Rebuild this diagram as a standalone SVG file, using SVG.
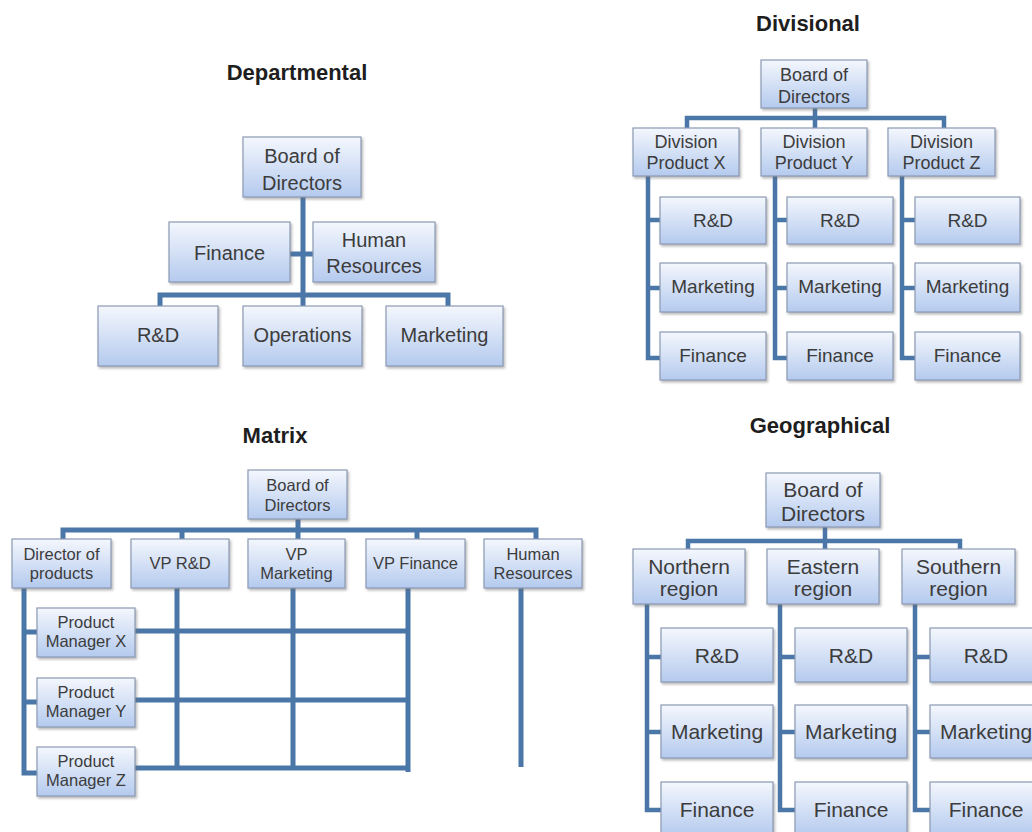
<svg xmlns="http://www.w3.org/2000/svg" width="1032" height="832" viewBox="0 0 1032 832">
<defs>
<linearGradient id="bg" x1="0" y1="0" x2="0" y2="1">
<stop offset="0" stop-color="#f4f7fd"/>
<stop offset="1" stop-color="#b4caee"/>
</linearGradient>
<filter id="sh" x="-10%" y="-10%" width="125%" height="130%">
<feDropShadow dx="1.5" dy="2" stdDeviation="1.2" flood-color="#6b6b6b" flood-opacity="0.45"/>
</filter>
</defs>
<style>
.box{fill:url(#bg);stroke:#8a9ab3;stroke-width:1.2;filter:url(#sh)}
.t{font-family:"Liberation Sans",Arial,sans-serif;fill:#3c3c3c;text-anchor:middle}
.title{font-family:"Liberation Sans",Arial,sans-serif;font-weight:bold;fill:#1e1e1e;text-anchor:middle;font-size:22px}
.d .t{font-size:20px}
.v .t{font-size:19px}
.v .t.s{font-size:18px}
.m .t{font-size:16.5px}
.g .t{font-size:21px}
.ln{fill:none;stroke:#4a76a8;stroke-linejoin:miter;stroke-linecap:butt}
.lw5{stroke-width:5}
.lw4{stroke-width:4.5}
</style>
<rect width="1032" height="832" fill="#ffffff"/>

<!-- ===== Departmental ===== -->
<text class="title" x="297" y="80">Departmental</text>
<g id="dep-connectors">
<path class="ln lw5" d="M303 197 V295 M160 306 V295 H448 V306 M303 295 V306 M290 254 H313"/>
</g>
<g class="d">
<g id="dep-board"><rect class="box" x="243" y="137" width="118" height="60"/><text class="t" x="302" y="163">Board of</text><text class="t" x="302" y="190">Directors</text></g>
<g id="dep-finance"><rect class="box" x="169" y="222" width="121" height="60"/><text class="t" x="229.5" y="260">Finance</text></g>
<g id="dep-hr"><rect class="box" x="313" y="222" width="122" height="60"/><text class="t" x="374" y="247">Human</text><text class="t" x="374" y="273">Resources</text></g>
<g id="dep-rd"><rect class="box" x="98" y="306" width="120" height="60"/><text class="t" x="158" y="342">R&amp;D</text></g>
<g id="dep-ops"><rect class="box" x="243" y="306" width="119" height="60"/><text class="t" x="302.5" y="342">Operations</text></g>
<g id="dep-mkt"><rect class="box" x="386" y="306" width="117" height="60"/><text class="t" x="444.5" y="342">Marketing</text></g>
</g>

<!-- ===== Divisional ===== -->
<text class="title" x="808" y="31">Divisional</text>
<g id="div-connectors">
<path class="ln lw4" d="M815 108 V118 M687 128 V118 H944 V128 M815 118 V128"/>
<path class="ln lw4" d="M648 176 V358 H660 M648 220 H660 M648 288 H660"/>
<path class="ln lw4" d="M775 176 V358 H787 M775 220 H787 M775 288 H787"/>
<path class="ln lw4" d="M902 176 V358 H915 M902 220 H915 M902 288 H915"/>
</g>
<g class="v">
<g id="div-board"><rect class="box" x="761" y="60" width="106" height="48"/><text class="t s" x="814" y="81">Board of</text><text class="t s" x="814" y="103">Directors</text></g>
<g id="div-x"><rect class="box" x="633" y="128" width="106" height="48"/><text class="t s" x="686" y="148">Division</text><text class="t s" x="686" y="169">Product X</text></g>
<g id="div-y"><rect class="box" x="761" y="128" width="106" height="48"/><text class="t s" x="814" y="148">Division</text><text class="t s" x="814" y="169">Product Y</text></g>
<g id="div-z"><rect class="box" x="888" y="128" width="107" height="48"/><text class="t s" x="941.5" y="148">Division</text><text class="t s" x="941.5" y="169">Product Z</text></g>
<g id="div-x-rd"><rect class="box" x="660" y="197" width="106" height="47"/><text class="t" x="713" y="227">R&amp;D</text></g>
<g id="div-x-mkt"><rect class="box" x="660" y="263" width="106" height="49"/><text class="t" x="713" y="293">Marketing</text></g>
<g id="div-x-fin"><rect class="box" x="660" y="332" width="106" height="48"/><text class="t" x="713" y="362">Finance</text></g>
<g id="div-y-rd"><rect class="box" x="787" y="197" width="106" height="47"/><text class="t" x="840" y="227">R&amp;D</text></g>
<g id="div-y-mkt"><rect class="box" x="787" y="263" width="106" height="49"/><text class="t" x="840" y="293">Marketing</text></g>
<g id="div-y-fin"><rect class="box" x="787" y="332" width="106" height="48"/><text class="t" x="840" y="362">Finance</text></g>
<g id="div-z-rd"><rect class="box" x="915" y="197" width="105" height="47"/><text class="t" x="967.5" y="227">R&amp;D</text></g>
<g id="div-z-mkt"><rect class="box" x="915" y="263" width="105" height="49"/><text class="t" x="967.5" y="293">Marketing</text></g>
<g id="div-z-fin"><rect class="box" x="915" y="332" width="105" height="48"/><text class="t" x="967.5" y="362">Finance</text></g>
</g>

<!-- ===== Matrix ===== -->
<text class="title" x="275" y="443">Matrix</text>
<g id="mat-connectors">
<path class="ln lw5" d="M298 519 V530 M63 539 V530 H536 V539 M182 530 V539 M298 530 V539 M417 530 V539"/>
<path class="ln lw5" d="M24 588 V773 H37 M24 632 H37 M24 702 H37"/>
<path class="ln lw5" d="M177 588 V768 M293 588 V768 M408 588 V772 M521 588 V767"/>
<path class="ln lw5" d="M135 631 H408 M135 700 H408 M135 768 H408"/>
</g>
<g class="m">
<g id="mat-board"><rect class="box" x="248" y="470" width="99" height="49"/><text class="t" x="297.5" y="491">Board of</text><text class="t" x="297.5" y="511">Directors</text></g>
<g id="mat-dir"><rect class="box" x="12" y="539" width="99" height="49"/><text class="t" x="61.5" y="560">Director of</text><text class="t" x="61.5" y="579">products</text></g>
<g id="mat-vprd"><rect class="box" x="131" y="539" width="98" height="49"/><text class="t" x="180" y="569">VP R&amp;D</text></g>
<g id="mat-vpm"><rect class="box" x="248" y="539" width="97" height="49"/><text class="t" x="296.5" y="560">VP</text><text class="t" x="296.5" y="579">Marketing</text></g>
<g id="mat-vpf"><rect class="box" x="366" y="539" width="99" height="49"/><text class="t" x="415.5" y="569">VP Finance</text></g>
<g id="mat-hr"><rect class="box" x="484" y="539" width="98" height="49"/><text class="t" x="533" y="560">Human</text><text class="t" x="533" y="579">Resources</text></g>
<g id="mat-pmx"><rect class="box" x="37" y="608" width="98" height="49"/><text class="t" x="86" y="628">Product</text><text class="t" x="86" y="647">Manager X</text></g>
<g id="mat-pmy"><rect class="box" x="37" y="678" width="98" height="49"/><text class="t" x="86" y="698">Product</text><text class="t" x="86" y="717">Manager Y</text></g>
<g id="mat-pmz"><rect class="box" x="37" y="747" width="98" height="49"/><text class="t" x="86" y="767">Product</text><text class="t" x="86" y="786">Manager Z</text></g>
</g>

<!-- ===== Geographical ===== -->
<text class="title" x="820" y="433">Geographical</text>
<g id="geo-connectors">
<path class="ln lw4" d="M825 527 V541 M688 549 V541 H960 V549 M825 541 V549"/>
<path class="ln lw4" d="M647 604 V810 H661 M647 657 H661 M647 732 H661"/>
<path class="ln lw4" d="M780 604 V810 H795 M780 657 H795 M780 732 H795"/>
<path class="ln lw4" d="M915 604 V810 H930 M915 657 H930 M915 732 H930"/>
</g>
<g class="g">
<g id="geo-board"><rect class="box" x="766" y="473" width="114" height="54"/><text class="t" x="823" y="497">Board of</text><text class="t" x="823" y="521">Directors</text></g>
<g id="geo-n"><rect class="box" x="633" y="549" width="112" height="55"/><text class="t" x="689" y="574">Northern</text><text class="t" x="689" y="596">region</text></g>
<g id="geo-e"><rect class="box" x="767" y="549" width="112" height="55"/><text class="t" x="823" y="574">Eastern</text><text class="t" x="823" y="596">region</text></g>
<g id="geo-s"><rect class="box" x="902" y="549" width="113" height="55"/><text class="t" x="958.5" y="574">Southern</text><text class="t" x="958.5" y="596">region</text></g>
<g id="geo-n-rd"><rect class="box" x="661" y="628" width="112" height="54"/><text class="t" x="717" y="663">R&amp;D</text></g>
<g id="geo-n-mkt"><rect class="box" x="661" y="705" width="112" height="53"/><text class="t" x="717" y="739">Marketing</text></g>
<g id="geo-n-fin"><rect class="box" x="661" y="782" width="112" height="54"/><text class="t" x="717" y="817">Finance</text></g>
<g id="geo-e-rd"><rect class="box" x="795" y="628" width="112" height="54"/><text class="t" x="851" y="663">R&amp;D</text></g>
<g id="geo-e-mkt"><rect class="box" x="795" y="705" width="112" height="53"/><text class="t" x="851" y="739">Marketing</text></g>
<g id="geo-e-fin"><rect class="box" x="795" y="782" width="112" height="54"/><text class="t" x="851" y="817">Finance</text></g>
<g id="geo-s-rd"><rect class="box" x="930" y="628" width="112" height="54"/><text class="t" x="986" y="663">R&amp;D</text></g>
<g id="geo-s-mkt"><rect class="box" x="930" y="705" width="112" height="53"/><text class="t" x="986" y="739">Marketing</text></g>
<g id="geo-s-fin"><rect class="box" x="930" y="782" width="112" height="54"/><text class="t" x="986" y="817">Finance</text></g>
</g>
</svg>
